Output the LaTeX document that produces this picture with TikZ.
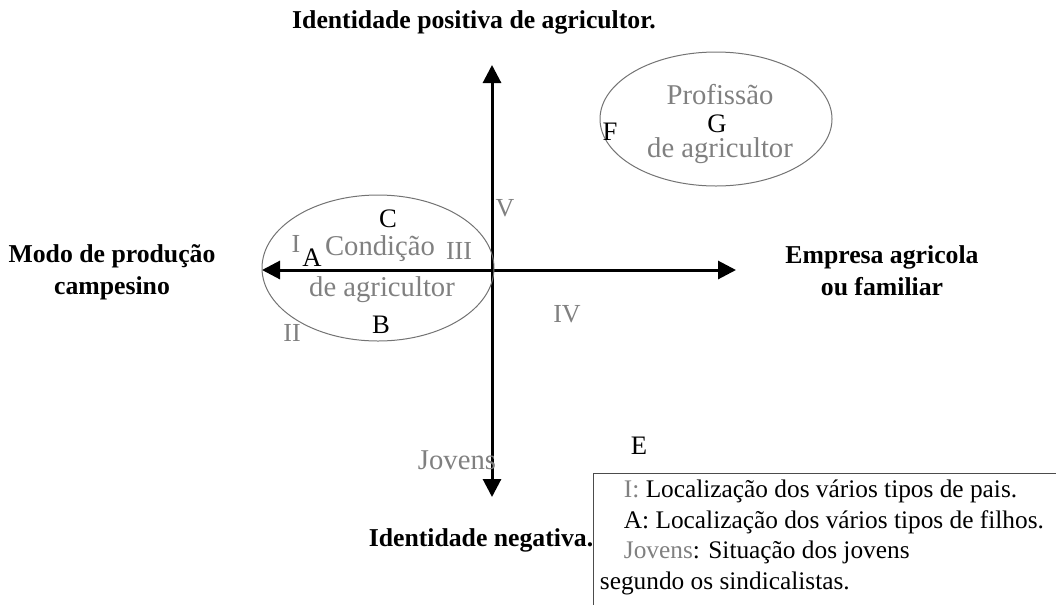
\documentclass[tikz,border=0pt]{standalone}
\usepackage{fontspec}
\setmainfont{Liberation Serif}
\usetikzlibrary{arrows.meta,shapes.geometric}
\newcommand*{\ind}{\hspace{18pt}}

\begin{document}
\begin{tikzpicture}[x=0.75pt,y=-0.75pt,
    axis/.style ={draw=black, line width=2.25pt,
      -{Triangle[length=13.5pt,width=13.5pt]}},
    region/.style ={ellipse, draw=black!55, line width=0.75pt, inner sep=0pt},
    pole/.style ={font=\bfseries\fontsize{19.3}{24}\selectfont, align=center},
    zone/.style ={text=black!50, font=\fontsize{21.5}{29}\selectfont, inner sep=0pt},
    numeral/.style ={text=black!50, font=\fontsize{19.5}{24}\selectfont, inner sep=0pt},
    case/.style ={font=\fontsize{20}{24}\selectfont, inner sep=0pt},
    legend_frame/.style ={draw=black!70, line width=0.75pt, anchor=north west,
      minimum width=370pt, minimum height=120pt},
    legend_text/.style ={anchor=north west, align=left, inner sep=5pt,
      font=\fontsize{19}{23}\selectfont}]
    \useasboundingbox (0,0) rectangle (1056,604);
    % the two axes
    \coordinate (o) at (492,270);
    \coordinate (n) at (492,65);
    \coordinate (s) at (492,497);
    \coordinate (w) at (262,270);
    \coordinate (e) at (736,270);
    \draw[axis] (o) -- (n);
    \draw[axis] (o) -- (s);
    \draw[axis] (o) -- (w);
    \draw[axis] (o) -- (e);
    % poles
    \node[pole] (positiva) at (474,22) {Identidade positiva de agricultor.};
    \node[pole] (negativa) at (481,540) {Identidade negativa.};
    \node[pole] (campesino) at (112,272) {Modo de produção\\campesino};
    \node[pole] (empresa) at (882,271) {Empresa agricola\\ou familiar};
    % regions
    \node[region, minimum width=174pt, minimum height=109.5pt] (condicao) at (378,268) {};
    \node[region, minimum width=174pt, minimum height=100.5pt] (profissao) at (716,119) {};
    \node[zone] (condicao_1) at (380,249) {Condição};
    \node[zone] (condicao_2) at (382,290) {de agricultor};
    \node[zone] (profissao_1) at (720,95) {Profissão};
    \node[zone] (profissao_2) at (720,151) {de agricultor};
    % parents (gray) and children (black)
    \node[numeral] (pais_i) at (296,244) {I};
    \node[numeral] (pais_ii) at (292,333) {II};
    \node[numeral] (pais_iii) at (459,251) {III};
    \node[numeral] (pais_iv) at (567,314) {IV};
    \node[numeral] (pais_v) at (505,208) {V};
    \node[zone] (jovens) at (457,460) {Jovens};
    \node[case] (filho_a) at (312,258) {A};
    \node[case] (filho_b) at (381,325) {B};
    \node[case] (filho_c) at (388,219) {C};
    \node[case] (filho_e) at (639,446) {E};
    \node[case] (filho_f) at (610,132) {F};
    \node[case] (filho_g) at (717,124) {G};
    % legend
    \node[legend_frame] (frame) at (593,473) {};
    \node[legend_text] (legend) at (frame.north west) {%
      \ind{\color{black!50}I:} Localização dos vários tipos de pais.\\
      \ind A: Localização dos vários tipos de filhos.\\
      \ind{\color{black!50}Jovens}: Situação dos jovens\\
      segundo os sindicalistas.};
\end{tikzpicture}
\end{document}
